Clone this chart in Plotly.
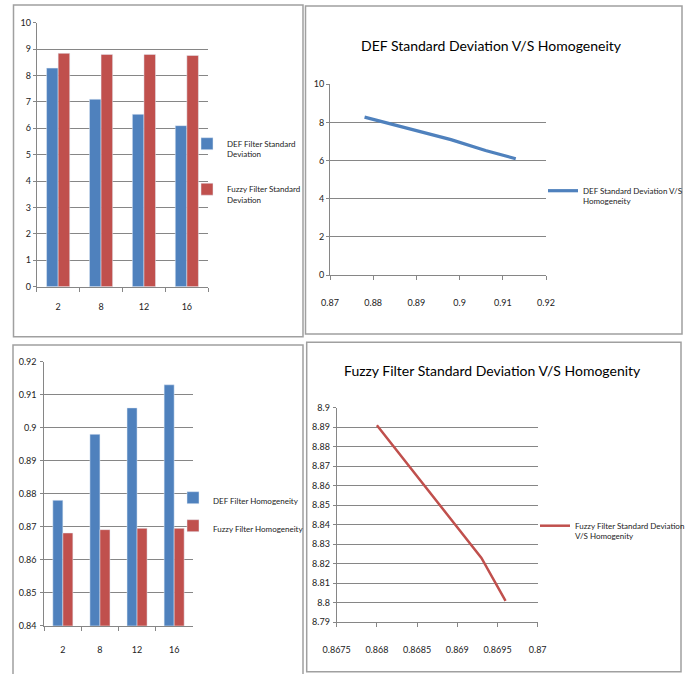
import plotly.graph_objects as go

# ---- data ----
window_sizes = ["2", "8", "12", "16"]
def_sd = [8.28, 7.10, 6.53, 6.10]
fuzzy_sd = [8.84, 8.80, 8.80, 8.76]
def_homog = [0.878, 0.898, 0.906, 0.913]
fuzzy_homog = [0.8681, 0.8691, 0.8695, 0.8695]

# fuzzy filter standard deviation against homogeneity
fuzzy_line_homog = [0.8680, 0.8690, 0.8693, 0.8696]
fuzzy_line_sd = [8.891, 8.839, 8.823, 8.801]

sd_ticks = [0, 1, 2, 3, 4, 5, 6, 7, 8, 9, 10]
homog_ticks = [0.84, 0.85, 0.86, 0.87, 0.88, 0.89, 0.90, 0.91, 0.92]
homog_ticktext = ["0.84", "0.85", "0.86", "0.87", "0.88", "0.89", "0.9", "0.91", "0.92"]
p2_x_ticks = [0.87, 0.88, 0.89, 0.90, 0.91, 0.92]
p2_x_text = ["0.87", "0.88", "0.89", "0.9", "0.91", "0.92"]
p2_y_ticks = [0, 2, 4, 6, 8, 10]
p4_x_ticks = [0.8675, 0.8680, 0.8685, 0.8690, 0.8695, 0.8700]
p4_x_text = ["0.8675", "0.868", "0.8685", "0.869", "0.8695", "0.87"]
p4_y_ticks = [8.79, 8.80, 8.81, 8.82, 8.83, 8.84, 8.85, 8.86, 8.87, 8.88, 8.89, 8.90]
p4_y_text = ["8.79", "8.8", "8.81", "8.82", "8.83", "8.84", "8.85", "8.86", "8.87", "8.88", "8.89", "8.9"]

BLUE = "#4F81BD"
RED = "#C0504D"
GRID = "#868686"
FONT = "Lato, Roboto, sans-serif"

W, H = 690, 674


def px_x(v):
    return v / W


def px_y(v):
    return 1 - v / H


fig = go.Figure()

# top-left: standard deviation bars
fig.add_trace(go.Bar(x=window_sizes, y=def_sd, name="DEF Filter Standard<br>Deviation",
                     marker_color=BLUE, xaxis="x", yaxis="y", legend="legend"))
fig.add_trace(go.Bar(x=window_sizes, y=fuzzy_sd, name="Fuzzy Filter Standard<br>Deviation",
                     marker_color=RED, xaxis="x", yaxis="y", legend="legend2"))

# top-right: DEF line
fig.add_trace(go.Scatter(x=def_homog, y=def_sd, mode="lines",
                         name="DEF Standard Deviation V/S<br>Homogeneity",
                         line=dict(color=BLUE, width=3.2), xaxis="x2", yaxis="y2", legend="legend3"))

# bottom-left: homogeneity bars
fig.add_trace(go.Bar(x=window_sizes, y=def_homog, name="DEF Filter Homogeneity",
                     marker_color=BLUE, xaxis="x3", yaxis="y3", legend="legend4"))
fig.add_trace(go.Bar(x=window_sizes, y=fuzzy_homog, name="Fuzzy Filter Homogeneity",
                     marker_color=RED, xaxis="x3", yaxis="y3", legend="legend5"))

# bottom-right: fuzzy line
fig.add_trace(go.Scatter(x=fuzzy_line_homog, y=fuzzy_line_sd, mode="lines",
                         name="Fuzzy Filter Standard Deviation<br>V/S Homogenity",
                         line=dict(color=RED, width=2.5), xaxis="x4", yaxis="y4", legend="legend6"))

tickfont = dict(family=FONT, size=9, color="#222")

common_x = dict(showgrid=False, showline=True, linecolor=GRID, linewidth=1,
                ticks="outside", ticklen=4, tickcolor=GRID, tickfont=tickfont, zeroline=False)
common_y = dict(showgrid=True, gridcolor=GRID, gridwidth=1, showline=True, linecolor=GRID,
                linewidth=1, ticks="outside", ticklen=3, tickcolor=GRID, tickfont=tickfont,
                zeroline=False)


def legend_at(x, y):
    return dict(x=px_x(x), y=px_y(y), xanchor="left", yanchor="top", valign="top",
                font=dict(family=FONT, size=8, color="#222"), bgcolor="rgba(0,0,0,0)",
                itemwidth=30)


fig.update_layout(
    width=W, height=H,
    margin=dict(l=0, r=0, t=0, b=0, autoexpand=False),
    paper_bgcolor="white", plot_bgcolor="white",
    font=dict(family=FONT, size=9, color="#222"),
    showlegend=True,
    barmode="group",
    bargap=0.46,
    xaxis=dict(common_x, domain=[px_x(36.7), px_x(208.3)], anchor="y",
               tickson="boundaries", ticklabelstandoff=11),
    yaxis=dict(common_y, domain=[px_y(286.7), px_y(22.7)], anchor="x",
               range=[0, 10], tickmode="array", tickvals=sd_ticks, ticklabelstandoff=0),
    xaxis2=dict(common_x, domain=[px_x(330), px_x(546)], anchor="y2",
                range=[0.87, 0.92], tickmode="array", tickvals=p2_x_ticks, ticktext=p2_x_text,
                ticklabelstandoff=15),
    yaxis2=dict(common_y, domain=[px_y(275), px_y(84.3)], anchor="x2",
                range=[0, 10], tickmode="array", tickvals=p2_y_ticks, ticklabelstandoff=0),
    xaxis3=dict(common_x, domain=[px_x(44.3), px_x(192.7)], anchor="y3",
                tickson="boundaries", ticklabelstandoff=15),
    yaxis3=dict(common_y, domain=[px_y(625.7), px_y(361.7)], anchor="x3",
                range=[0.84, 0.92], tickmode="array", tickvals=homog_ticks,
                ticktext=homog_ticktext, ticklabelstandoff=2),
    xaxis4=dict(common_x, domain=[px_x(336.7), px_x(537.7)], anchor="y4",
                range=[0.8675, 0.87], tickmode="array", tickvals=p4_x_ticks, ticktext=p4_x_text,
                ticklabelstandoff=15),
    yaxis4=dict(common_y, domain=[px_y(622.3), px_y(407.7)], anchor="x4",
                range=[8.79, 8.90], tickmode="array", tickvals=p4_y_ticks, ticktext=p4_y_text,
                ticklabelstandoff=1),
    legend=legend_at(187, 132),
    legend2=legend_at(187, 177.5),
    legend3=legend_at(543, 179),
    legend4=legend_at(173, 486),
    legend5=legend_at(173, 514),
    legend6=legend_at(535, 514),
)

# chart titles for the two line charts
title_font = dict(family=FONT, size=14, color="#000")
fig.add_annotation(text="DEF Standard Deviation V/S Homogeneity", x=px_x(491.7), y=px_y(45),
                   xref="paper", yref="paper", showarrow=False, font=title_font,
                   xanchor="center", yanchor="middle")
fig.add_annotation(text="Fuzzy Filter Standard Deviation V/S Homogenity", x=px_x(492),
                   y=px_y(370), xref="paper", yref="paper", showarrow=False, font=title_font,
                   xanchor="center", yanchor="middle")

# chart frames
frames = [
    (13.5, 5, 303, 336.7),
    (305.5, 6, 682, 334),
    (13, 345, 303, 676),
    (306.7, 342.3, 681, 671.7),
]
for x0, y0, x1, y1 in frames:
    fig.add_shape(type="rect", xref="paper", yref="paper",
                  x0=px_x(x0), x1=px_x(x1), y0=px_y(y1), y1=px_y(y0),
                  line=dict(color="#a0a0a0", width=1.5), fillcolor="rgba(0,0,0,0)", layer="below")

fig.write_html("out.html")
